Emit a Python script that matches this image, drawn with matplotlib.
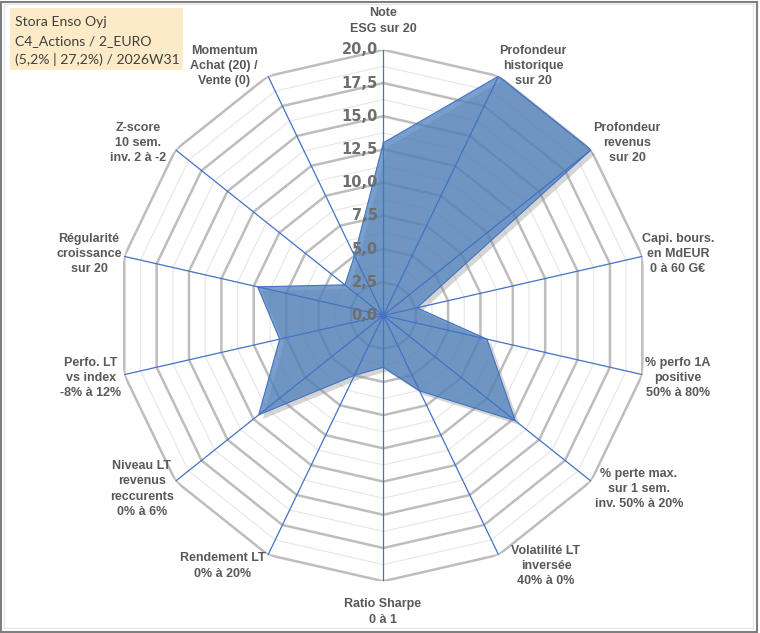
import numpy as np
import matplotlib
matplotlib.use('Agg')
import matplotlib.pyplot as plt
import matplotlib.patheffects as pe
from matplotlib.patches import Rectangle

# axes of the radar, clockwise from the top
categories = [
    'Note\nESG sur 20',
    'Profondeur\nhistorique\nsur 20',
    'Profondeur\nrevenus\nsur 20',
    'Capi. bours.\nen MdEUR\n0 à 60 G€',
    '% perfo 1A\npositive\n50% à 80%',
    '% perte max.\nsur 1 sem.\ninv. 50% à 20%',
    'Volatilité LT\ninversée\n40% à 0%',
    'Ratio Sharpe\n0 à 1',
    'Rendement LT\n0% à 20%',
    'Niveau LT\nrevenus\nreccurents\n0% à 6%',
    'Perfo. LT\nvs index\n-8% à 12%',
    'Régularité\ncroissance\nsur 20',
    'Z-score\n10 sem.\ninv. 2 à -2',
    'Momentum\nAchat (20) /\nVente (0)',
]
scores = [13.0, 20.0, 20.0, 2.6, 8.0, 12.7, 6.3, 3.9, 5.0, 12.0, 8.0, 9.7, 3.7, 5.0]
major_levels = [2.5, 5.0, 7.5, 10.0, 12.5, 15.0, 17.5, 20.0]
minor_levels = [1.25, 3.75, 6.25, 8.75, 11.25, 13.75, 16.25, 18.75]
tick_labels = ['0,0', '2,5', '5,0', '7,5', '10,0', '12,5', '15,0', '17,5', '20,0']
title_lines = ['Stora Enso Oyj', 'C4_Actions / 2_EURO', '(5,2% | 27,2%) / 2026W31']

# label centres in pixels (layout only)
label_pos = [(383, 21), (533, 66), (627, 143), (678, 254), (678, 378), (639, 489),
             (546, 566), (383, 612), (223, 566), (142, 489), (91, 378), (89, 254),
             (138, 143), (224, 66)]

W, H = 760, 633
fig = plt.figure(figsize=(W / 100, H / 100), dpi=100)
plt.rcParams['font.family'] = ['Liberation Sans', 'DejaVu Sans']

cx, cy, R = 383.3, 315.5, 265.7
ax = fig.add_axes([(cx - R) / W, (H - cy - R) / H, 2 * R / W, 2 * R / H], projection='polar')
ax.set_theta_offset(np.pi / 2)
ax.set_theta_direction(-1)
ax.set_ylim(0, 20)
ax.grid(False)
ax.spines['polar'].set_visible(False)
ax.set_xticks([])
ax.set_yticks([])
ax.patch.set_alpha(0)

n = len(categories)
angles = np.arange(n) * 2 * np.pi / n
closed = np.append(angles, angles[0])

for lv in minor_levels:
    ax.plot(closed, [lv] * (n + 1), color='#E6E6E6', lw=0.8, zorder=1)
for lv in major_levels:
    ax.plot(closed, [lv] * (n + 1), color='#BDBDBD', lw=1.8, zorder=2)

vals = np.append(scores, scores[0])
ax.fill(closed, vals, facecolor='#4F81BD', alpha=0.76, zorder=3,
        path_effects=[pe.SimplePatchShadow(offset=(3, -3), shadow_rgbFace='#888888', alpha=0.35), pe.Normal()])
ax.plot(closed, vals, color='#4472C4', lw=0.8, zorder=4)

for a in angles:
    ax.plot([a, a], [0, 20], color='#4472C4', lw=0.9, zorder=5)
ax.plot([0], [0], 'o', color='#4472C4', ms=3, zorder=6)

# radial tick labels
for lv, txt in zip([0.0] + major_levels, tick_labels):
    ax.annotate(txt, xy=(0, lv), xytext=(-4, 0), textcoords='offset points',
                ha='right', va='center', fontsize=10.5, fontweight='bold',
                color='#6E6E6E', family=['DejaVu Sans'], zorder=7)

for txt, (x, y) in zip(categories, label_pos):
    fig.text(x / W, 1 - y / H, txt, ha='center', va='center', fontsize=9,
             fontweight='bold', color='#595959', linespacing=1.38)

# title box
fig.patches.append(Rectangle((10 / W, 1 - 70 / H), 173 / W, 62 / H, transform=fig.transFigure,
                             facecolor='#FDEBC8', edgecolor='none', zorder=0))
for i, t in enumerate(title_lines):
    fig.text(15 / W, 1 - (26.5 + i * 19) / H, t, ha='left', va='baseline', fontsize=10.1,
             color='#404040', family=['Lato', 'DejaVu Sans'])

# chart frame
fig.patches.append(Rectangle((1 / W, 1 / H), (W - 4) / W, (H - 3) / H, transform=fig.transFigure,
                             facecolor='none', edgecolor='#7F7F7F', lw=1.5))
fig.patches.append(Rectangle((4 / W, 5 / H), (W - 11) / W, (H - 9) / H, transform=fig.transFigure,
                             facecolor='none', edgecolor='#E3E3E3', lw=0.8))

plt.savefig('out.png', dpi=100)
